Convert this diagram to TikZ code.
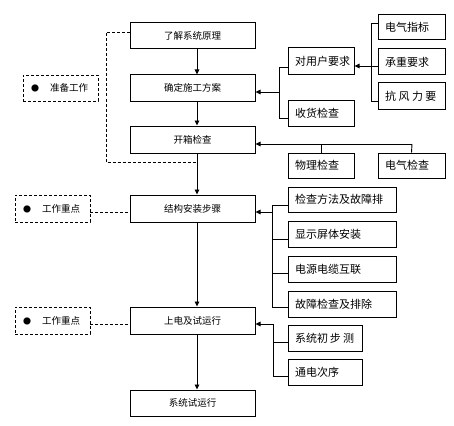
\documentclass[tikz,border=0pt]{standalone}
\usepackage{fontspec}
\setmainfont{Noto Sans CJK SC}
\usetikzlibrary{arrows.meta}
\begin{document}
\begin{tikzpicture}[x=1pt,y=-1pt,
  mainbox/.style={draw,line width=1pt,minimum width=125pt,minimum height=26pt,inner sep=0pt,font=\fontsize{9.5}{11}\selectfont},
  sidebox/.style={draw,line width=1pt,minimum height=26pt,inner xsep=7pt,inner ysep=0pt,align=left,font=\fontsize{11}{13}\selectfont},
  notebox/.style={draw,dashed,dash pattern=on 3pt off 2pt,line width=0.9pt,minimum height=26pt,inner xsep=8pt,inner ysep=0pt,text width=59pt,align=left,font=\fontsize{9.5}{11}\selectfont},
  conn/.style={line width=0.9pt},
  arr/.style={line width=0.9pt,-{Triangle[length=5pt,width=4.5pt]}},
  dline/.style={line width=0.9pt,dash pattern=on 3pt off 2pt}]
\useasboundingbox (0,0) rectangle (454,425);
% main column
\node[mainbox] (b1) at (192.5,35.5) {了解系统原理};
\node[mainbox] (b2) at (192.5,88) {确定施工方案};
\node[mainbox,minimum height=27pt] (b3) at (192.5,139.5) {开箱检查};
\node[mainbox,minimum height=27pt] (b4) at (192.5,208.5) {结构安装步骤};
\node[mainbox,minimum height=27pt] (b5) at (192.5,320.5) {上电及试运行};
\node[mainbox] (b6) at (192.5,403) {系统试运行};
% left notes
\node[notebox] (l1) at (60.5,88) {{\fontsize{8}{8}\selectfont ●}\hspace{11pt}准备工作};
\node[notebox,minimum height=27pt] (l2) at (52.5,208.5) {{\fontsize{8}{8}\selectfont ●}\hspace{11pt}工作重点};
\node[notebox,minimum height=27pt] (l3) at (52.5,320.5) {{\fontsize{8}{8}\selectfont ●}\hspace{11pt}工作重点};
% right boxes
\node[sidebox,text width=52pt,minimum height=27pt] (r1) at (321,61.5) {对用户要求};
\node[sidebox,text width=52pt] (r2) at (321,113) {收货检查};
\node[sidebox,text width=53pt,minimum height=25pt] (r3) at (411.5,27.5) {电气指标};
\node[sidebox,text width=53pt] (r4) at (411.5,62) {承重要求};
\node[sidebox,text width=53pt] (r5) at (411.5,96) {抗\hspace{2.5pt}风\hspace{2.5pt}力\hspace{2.5pt}要};
\node[sidebox,text width=52pt,minimum height=25pt] (r6) at (321,165.5) {物理检查};
\node[sidebox,text width=53pt,minimum height=25pt] (r7) at (411.5,165.5) {电气检查};
\node[sidebox,text width=94pt,minimum height=25pt] (s1) at (342,199.5) {检查方法及故障排};
\node[sidebox,text width=94pt] (s2) at (342,234) {显示屏体安装};
\node[sidebox,text width=94pt] (s3) at (342,269) {电源电缆互联};
\node[sidebox,text width=94pt] (s4) at (342,304) {故障检查及排除};
\node[sidebox,text width=60pt] (p1) at (325,338) {系统初\hspace{2pt}步\hspace{2pt}测};
\node[sidebox,text width=60pt] (p2) at (325,372) {通电次序};
% main arrows
\draw[arr] ([xshift=4.5pt]b1.south) -- ([xshift=4.5pt]b2.north);
\draw[arr] ([xshift=4.5pt]b2.south) -- ([xshift=4.5pt]b3.north);
\draw[arr] ([xshift=4.5pt]b3.south) -- ([xshift=4.5pt]b4.north);
\draw[arr] ([xshift=4.5pt]b4.south) -- ([xshift=4.5pt]b5.north);
\draw[arr] ([xshift=4.5pt]b5.south) -- ([xshift=4.5pt]b6.north);
% dashed bracket
\coordinate (dq) at (106,162);
\coordinate (dm) at (197,162);
\draw[dline] (b1.west |- 0,32) -| (dq) -- (dm);
\draw[dline] (l2.east |- 0,212) -- (b4.west |- 0,212);
\draw[dline] (l3.east |- 0,324) -- (b5.west |- 0,324);
% r1/r2 group
\coordinate (j1) at (279,92);
\draw[conn] (r1.west |- 0,67) -| (279,118) -- (r2.west |- 0,118);
\draw[arr] (j1) -- (b2.east |- j1);
% r3-r5 group
\coordinate (j2) at (371,66);
\draw[conn] (r3.west |- 0,23) -| (371,101) -- (r5.west |- 0,101);
\draw[conn] (r4.west |- j2) -- (j2);
\draw[arr] (j2) -- (r1.east |- j2);
% r6/r7 group
\coordinate (j3) at (412,144);
\draw[conn] (r6.north) -- (r6.north |- j3);
\draw[conn] (r7.north) -- (j3);
\draw[arr] (j3) -- (b3.east |- j3);
% s group
\coordinate (j4) at (272,212);
\draw[conn] (s1.west |- 0,205) -| (272,307) -- (s4.west |- 0,307);
\draw[conn] (s2.west |- 0,239) -- (272,239);
\draw[conn] (s3.west |- 0,273) -- (272,273);
\draw[arr] (j4) -- (b4.east |- j4);
% p group
\coordinate (j5) at (273,324);
\draw[conn] (p1.west |- 0,342) -| (273,376) -- (p2.west |- 0,376);
\draw[conn] (j5) -- (273,342);
\draw[arr] (j5) -- (b5.east |- j5);
\end{tikzpicture}
\end{document}
